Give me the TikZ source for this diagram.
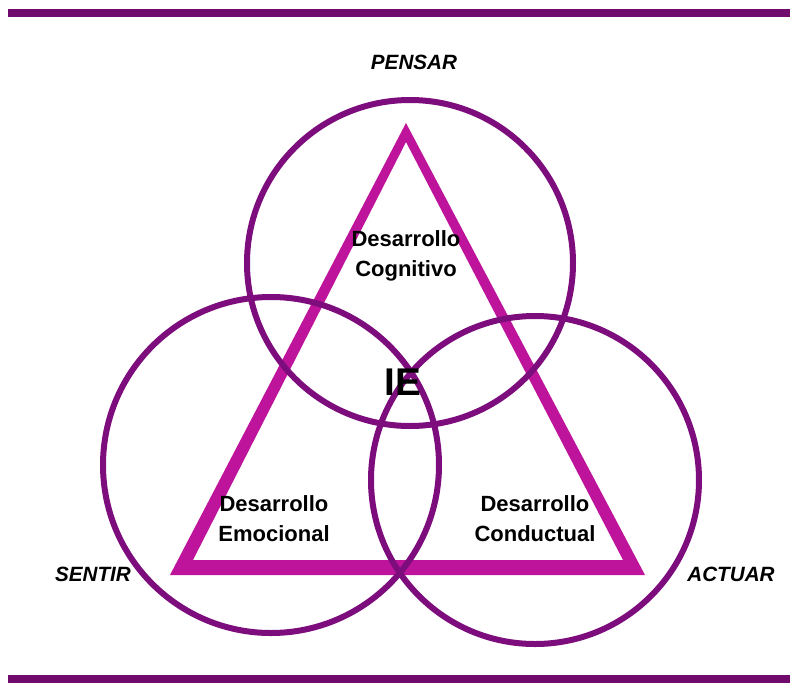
\documentclass[tikz,border=0pt]{standalone}
\usepackage{fontspec}
\setmainfont{Liberation Sans}
\definecolor{circpurple}{RGB}{125,12,125}
\definecolor{trimagenta}{RGB}{190,20,155}
\definecolor{barpurple}{RGB}{112,10,108}

\begin{document}
\begin{tikzpicture}[
    x=0.75pt, y=-0.75pt,
    every node/.style={font=\bfseries\fontsize{16.5}{22.5}\selectfont, align=center},
    corner/.style={font=\bfseries\itshape\fontsize{15.5}{18}\selectfont},
    ring/.style={draw=circpurple, line width=4.5pt},
    bar/.style={fill=barpurple, draw=none}
]
    \useasboundingbox (0,0) rectangle (790,683);

    % Bars
    \fill[bar] (8,9) rectangle (790,17);
    \fill[bar] (8,675) rectangle (790,683);

    % Triangle
    \coordinate (apex) at (406,123);
    \coordinate (bl) at (170,575);
    \coordinate (br) at (645,575);
    \fill[trimagenta, even odd rule]
        (apex) -- (bl) -- (br) -- cycle
        (406,142) -- (193,560) -- (623,560) -- cycle;

    % Circles
    \coordinate (cpensar) at (410,263);
    \coordinate (csentir) at (271,465);
    \coordinate (cactuar) at (535,480);
    \draw[ring] (cpensar) circle (163);
    \draw[ring] (csentir) circle (168);
    \draw[ring] (cactuar) circle (164);

    % Labels
    \node[corner] (pensar) at (414,62) {PENSAR};
    \node[corner] (sentir) at (93,574) {SENTIR};
    \node[corner] (actuar) at (731,574) {ACTUAR};

    \node (cognitivo) at (406,256) {Desarrollo\\Cognitivo};
    \node (emocional) at (274,519) {Desarrollo\\Emocional};
    \node (conductual) at (535,519) {Desarrollo\\Conductual};
    \node[font=\bfseries\fontsize{29}{32}\selectfont] (ie) at (403,382) {IE};

\end{tikzpicture}
\end{document}
